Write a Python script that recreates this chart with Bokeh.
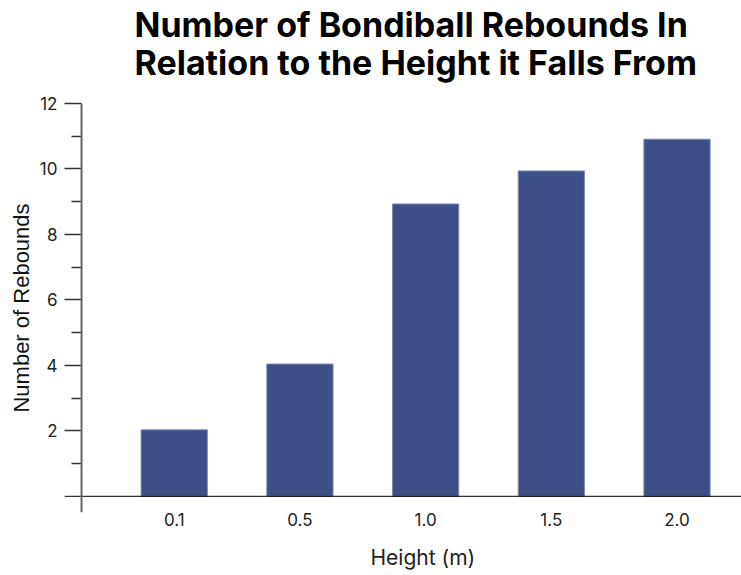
from bokeh.plotting import figure
from bokeh.models import LinearAxis, FixedTicker, Range1d, Title, Span
from bokeh.embed import file_html
from bokeh.resources import INLINE

categories = ["0.1", "0.5", "1.0", "1.5", "2.0"]
rebounds = [2.03, 4.04, 8.93, 9.94, 10.91]
y_ticks = [2, 4, 6, 8, 10, 12]
y_minor = [1, 3, 5, 7, 9, 11]

xs = list(range(len(categories)))

p = figure(width=741, height=575, output_backend="svg", toolbar_location=None,
           x_range=Range1d(-0.873, 4.513), y_range=Range1d(-0.495, 12),
           x_axis_location=None, y_axis_location=None,
           frame_width=677, frame_height=409,
           min_border_left=64, min_border_right=0, min_border_top=103, min_border_bottom=63)
p.outline_line_color = None
p.xgrid.visible = False
p.ygrid.visible = False

p.vbar(x=xs, top=rebounds, bottom=0, width=0.527,
       fill_color="#3d4f86", line_color="#7e8bb3", line_width=1)

# axis lines (crossing)
p.add_layout(Span(location=0, dimension="width", line_color="black", line_width=1))
p.add_layout(Span(location=-0.7375, dimension="height", line_color="#666666", line_width=2))

tick_font = "Inter"


def spacer(size):
    # blank axis used only to reserve vertical room in a side panel
    ax = LinearAxis(ticker=FixedTicker(ticks=[2]))
    ax.major_label_overrides = {2: ""}
    ax.major_label_text_font_size = "1px"
    ax.axis_line_color = None
    ax.major_tick_line_color = "white"
    ax.major_tick_line_alpha = 0.0
    ax.minor_tick_line_color = None
    ax.major_tick_out = size
    ax.major_tick_in = 0
    ax.minor_tick_out = 0
    ax.minor_tick_in = 0
    ax.major_label_standoff = 0
    return ax


xaxis = LinearAxis()
xaxis.ticker = FixedTicker(ticks=xs)
xaxis.major_label_overrides = {i: c for i, c in zip(xs, categories)}
xaxis.axis_line_color = None
xaxis.major_tick_line_color = None
xaxis.minor_tick_line_color = None
xaxis.major_tick_out = 0
xaxis.major_tick_in = 0
xaxis.minor_tick_out = 0
xaxis.minor_tick_in = 0
xaxis.major_label_standoff = 0
xaxis.major_label_text_font = tick_font
xaxis.major_label_text_font_size = "17px"
xaxis.major_label_text_color = "#222222"
p.add_layout(xaxis, "below")
p.add_layout(spacer(14), "below")

yaxis = LinearAxis()
yaxis.ticker = FixedTicker(ticks=y_ticks, minor_ticks=y_minor)
yaxis.axis_line_color = None
yaxis.major_tick_out = 0
yaxis.major_tick_in = 17
yaxis.minor_tick_out = -7
yaxis.minor_tick_in = 17
yaxis.major_tick_line_color = "#333333"
yaxis.major_tick_line_width = 1.5
yaxis.minor_tick_line_color = "#333333"
yaxis.minor_tick_line_width = 1.5
yaxis.major_label_standoff = 7
yaxis.major_label_text_font = tick_font
yaxis.major_label_text_font_size = "17px"
yaxis.major_label_text_color = "#222222"
yaxis.axis_label = "Number of Rebounds"
yaxis.axis_label_text_font = "Liberation Sans"
yaxis.axis_label_text_font_size = "22px"
yaxis.axis_label_text_font_style = "normal"
yaxis.axis_label_text_color = "#111111"
yaxis.axis_label_standoff = 3
p.add_layout(yaxis, "left")

p.add_layout(Title(text="Height (m)", align="left", offset=306, vertical_align="bottom",
                   text_font=tick_font, text_font_style="normal", text_font_size="21px",
                   text_color="#222222", standoff=0), "below")

p.add_layout(spacer(18), "above")
p.add_layout(Title(text="Number of Bondiball Rebounds In\nRelation to the Height it Falls From",
                   align="left", offset=70, vertical_align="top",
                   text_font="Inter", text_font_style="bold",
                   text_font_size="34px", text_color="black", standoff=0,
                   text_line_height=0.95), "above")

open("out.html", "w").write(file_html(p, INLINE))
